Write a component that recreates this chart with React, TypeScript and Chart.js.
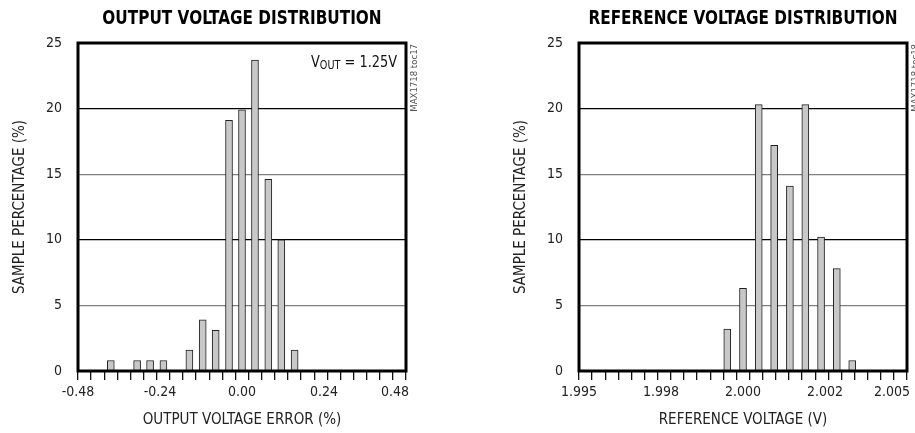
import { useEffect, useRef } from "react";
import { Chart, registerables } from "chart.js";

Chart.register(...registerables);

const FONT = '"Liberation Sans Narrow", "DejaVu Sans Condensed", "Roboto Condensed", Arial, sans-serif';

// ---------- left chart: output voltage distribution ----------
const outTitle = "OUTPUT VOLTAGE DISTRIBUTION";
const outXTitle = "OUTPUT VOLTAGE ERROR (%)";
const outBins = [-0.384, -0.307, -0.269, -0.23, -0.154, -0.115, -0.077, -0.038, 0.0, 0.038, 0.077, 0.115, 0.154];
const outPct = [0.8, 0.8, 0.8, 0.8, 1.6, 3.9, 3.1, 19.1, 19.9, 23.7, 14.6, 10.0, 1.6];
const outTickValues = [-0.48, -0.24, 0, 0.24, 0.48];
const outTickLabels = ["-0.48", "-0.24", "0.00", "0.24", "0.48"];
const outMin = -0.48;
const outMax = 0.48;
const outNote = ["V", "OUT", " = 1.25V"];
const outCode = "MAX1718 toc17";

// ---------- right chart: reference voltage distribution ----------
const refTitle = "REFERENCE VOLTAGE DISTRIBUTION";
const refXTitle = "REFERENCE VOLTAGE (V)";
const refBins = [1.99952, 2.0, 2.00048, 2.00095, 2.00143, 2.0019, 2.00238, 2.00286, 2.00333];
const refPct = [3.2, 6.3, 20.3, 17.2, 14.1, 20.3, 10.2, 7.8, 0.8];
const refTickValues = [1.995, 1.9975, 2.0, 2.0025, 2.005];
const refTickLabels = ["1.995", "1.998", "2.000", "2.002", "2.005"];
const refMin = 1.995;
const refMax = 2.005;
const refCode = "MAX1718 toc18";

// ---------- shared ----------
const yTitle = "SAMPLE PERCENTAGE (%)";
const yMin = 0;
const yMax = 25;
const yStep = 5;
const minorDivisions = 25;

type Spec = {
  title: string;
  xTitle: string;
  bins: number[];
  pct: number[];
  tickValues: number[];
  tickLabels: string[];
  min: number;
  max: number;
  code: string;
  note?: string[];
  rightPad: number;
  barThickness: number;
};

function makeChart(canvas: HTMLCanvasElement, s: Spec) {
  const minor = Array.from({ length: minorDivisions + 1 }, (_, n) => s.min + (n * (s.max - s.min)) / minorDivisions);

  const decor = {
    id: "decor",
    beforeDraw(chart: any) {
      const sc = chart.scales.x2;
      const items = sc.getLabelItems(chart.chartArea);
      const last = items[items.length - 1];
      if (last) {
        last.options.textAlign = "right";
        last.options.translation = [chart.chartArea.right + 3, last.options.translation[1]];
      }
    },
    afterDraw(chart: any) {
      const { ctx, chartArea: a } = chart;
      // heavy condensed title centred over the plot
      ctx.save();
      ctx.fillStyle = "#000";
      ctx.font = `bold 20px ${FONT}`;
      ctx.textAlign = "center";
      ctx.textBaseline = "alphabetic";
      const tw = ctx.measureText(s.title).width;
      ctx.fillText(s.title, (a.left + a.right) / 2, 24, tw * 0.85);
      ctx.restore();
    },
    afterDatasetsDraw(chart: any) {
      const { ctx, chartArea: a } = chart;
      ctx.save();
      ctx.strokeStyle = "#000";
      ctx.lineWidth = 3;
      ctx.strokeRect(a.left, a.top, a.right - a.left, a.bottom - a.top);

      // part code, vertical at right
      ctx.fillStyle = "#555";
      ctx.font = `9.5px ${FONT}`;
      ctx.translate(a.right + 9, a.top + 1);
      ctx.rotate(-Math.PI / 2);
      ctx.textAlign = "right";
      ctx.textBaseline = "middle";
      ctx.fillText(s.code, 0, 0);
      ctx.restore();

      if (s.note) {
        ctx.save();
        ctx.fillStyle = "#111";
        ctx.textBaseline = "alphabetic";
        ctx.textAlign = "left";
        const main = `16px ${FONT}`;
        const sub = `12px ${FONT}`;
        ctx.font = main;
        const w0 = ctx.measureText(s.note[0]).width;
        const w2 = ctx.measureText(s.note[2]).width;
        ctx.font = sub;
        const w1 = ctx.measureText(s.note[1]).width;
        const total = w0 + w1 + w2;
        const fit = Math.min(1, 86 / total);
        const base = a.top + 24;
        ctx.translate(a.right - 9 - total * fit, base);
        ctx.scale(fit, 1);
        let x = 0;
        ctx.font = main;
        ctx.fillText(s.note[0], x, 0);
        x += w0;
        ctx.font = sub;
        ctx.fillText(s.note[1], x, 2);
        x += w1;
        ctx.font = main;
        ctx.fillText(s.note[2], x, 0);
        ctx.restore();
      }
    },
  };

  return new Chart(canvas, {
    type: "bar",
    data: {
      datasets: [
        {
          data: s.bins.map((x, i) => ({ x, y: s.pct[i] })),
          backgroundColor: "#c8c8c8",
          borderColor: "#222",
          borderWidth: 1,
          barThickness: s.barThickness,
          xAxisID: "x",
          yAxisID: "y",
        } as any,
      ],
    },
    options: {
      responsive: false,
      maintainAspectRatio: false,
      animation: false,
      events: [],
      layout: { padding: { left: 0, right: s.rightPad, top: 43, bottom: 0 } },
      plugins: {
        legend: { display: false },
        tooltip: { enabled: false },
        title: { display: false },
      },
      scales: {
        x: {
          type: "linear",
          position: "bottom",
          weight: 0,
          min: s.min,
          max: s.max,
          offset: false,
          afterBuildTicks: (sc: any) => {
            sc.ticks = minor.map((v) => ({ value: v }));
          },
          afterFit: (sc: any) => {
            sc.height = 9;
            sc.paddingLeft = 0;
            sc.paddingRight = 0;
          },
          ticks: { display: false },
          grid: { offset: false, drawOnChartArea: false, drawTicks: true, tickLength: 9, color: "#111", lineWidth: 1.3 },
          border: { display: false },
        },
        x2: {
          type: "linear",
          position: "bottom",
          weight: 1,
          min: s.min,
          max: s.max,
          offset: false,
          afterBuildTicks: (sc: any) => {
            sc.ticks = s.tickValues.map((v) => ({ value: v }));
          },
          afterFit: (sc: any) => {
            sc.height = 53;
            sc.paddingLeft = 0;
            sc.paddingRight = 0;
          },
          ticks: {
            autoSkip: false,
            maxRotation: 0,
            padding: 4,
            color: "#222",
            font: { family: FONT, size: 14 },
            callback: (v: any) => s.tickLabels[s.tickValues.indexOf(Number(v))] ?? "",
          },
          grid: { display: false, drawTicks: false },
          border: { display: false },
          title: {
            display: true,
            text: s.xTitle,
            color: "#222",
            font: { family: FONT, size: 15 },
            padding: { top: 0, bottom: 4 },
          },
        },
        y: {
          type: "linear",
          position: "left",
          min: yMin,
          max: yMax,
          afterFit: (sc: any) => {
            sc.width = 78;
          },
          ticks: {
            stepSize: yStep,
            padding: 16,
            color: "#222",
            font: { family: FONT, size: 14 },
          },
          grid: {
            drawTicks: false,
            lineWidth: 1.3,
            color: (c: any) => (c.tick && c.tick.value % 10 === 0 ? "#000" : "#808080"),
          },
          border: { display: false },
          title: {
            display: true,
            text: yTitle,
            color: "#222",
            font: { family: FONT, size: 15 },
            padding: { top: 11, bottom: 0 },
          },
        },
      },
    } as any,
    plugins: [decor],
  });
}

function Panel({ spec, left, width }: { spec: Spec; left: number; width: number }) {
  const ref = useRef<HTMLCanvasElement | null>(null);
  useEffect(() => {
    if (!ref.current) return;
    const c = makeChart(ref.current, spec);
    return () => c.destroy();
  }, []);
  return (
    <canvas
      ref={ref}
      width={width}
      height={433}
      style={{ position: "absolute", left, top: 0, width, height: 433 }}
    />
  );
}

export default function App() {
  const outSpec: Spec = {
    title: outTitle,
    xTitle: outXTitle,
    bins: outBins,
    pct: outPct,
    tickValues: outTickValues,
    tickLabels: outTickLabels,
    min: outMin,
    max: outMax,
    code: outCode,
    note: outNote,
    rightPad: 51,
    barThickness: 7,
  };
  const refSpec: Spec = {
    title: refTitle,
    xTitle: refXTitle,
    bins: refBins,
    pct: refPct,
    tickValues: refTickValues,
    tickLabels: refTickLabels,
    min: refMin,
    max: refMax,
    code: refCode,
    rightPad: 8,
    barThickness: 7,
  };
  return (
    <div style={{ position: "fixed", left: 0, top: 0, width: 915, height: 433, background: "#fff", overflow: "hidden" }}>
      <Panel spec={outSpec} left={0} width={457} />
      <Panel spec={refSpec} left={501} width={414} />
    </div>
  );
}
